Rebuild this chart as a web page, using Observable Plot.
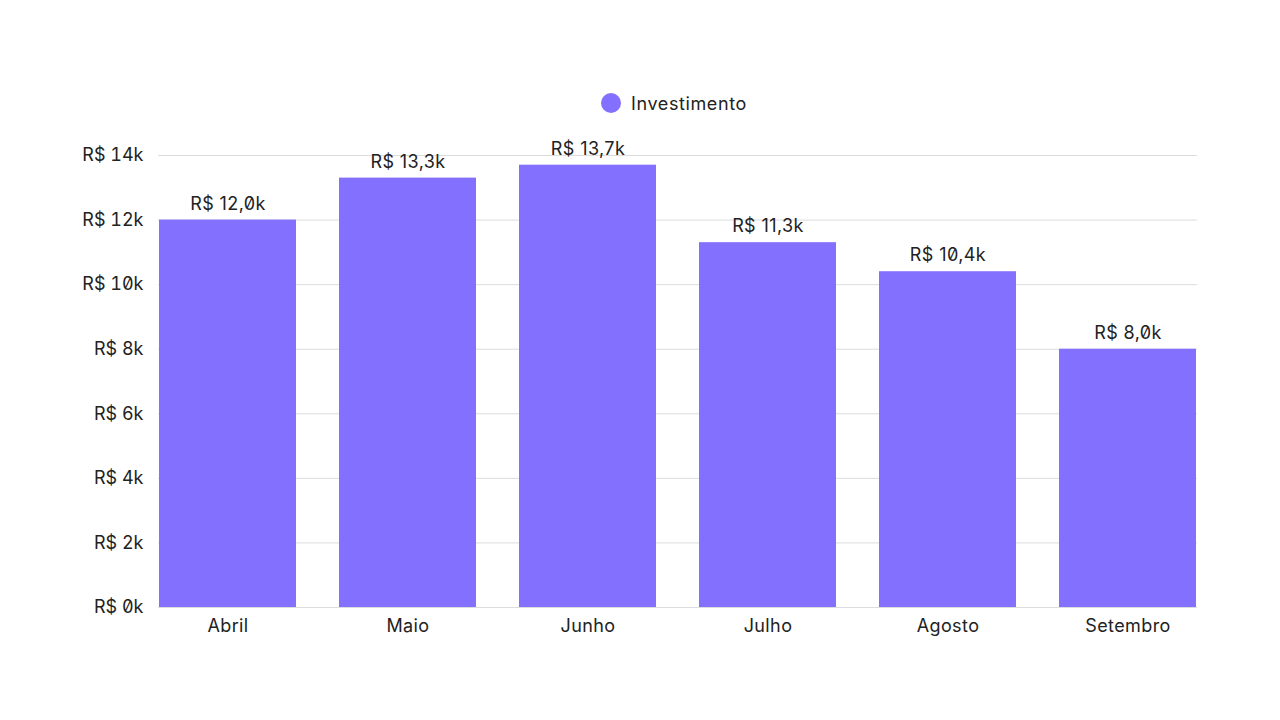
<!DOCTYPE html>
<html>
<head>
<meta charset="utf-8">
<script src="https://cdn.jsdelivr.net/npm/d3@7"></script>
<script src="https://cdn.jsdelivr.net/npm/@observablehq/plot@0.6"></script>
<style>
  html, body { margin: 0; padding: 0; background: #fff; }
  body { width: 1280px; height: 720px; overflow: hidden; font-family: Inter, "Noto Sans", sans-serif; font-feature-settings: "zero" 1; color: #222; }
  #legend { margin-top: 83px; height: 40px; display: flex; align-items: center; justify-content: center; font-size: 18px; letter-spacing: 0.6px; padding-left: 68px; box-sizing: border-box; }
  #legend .sw { width: 20px; height: 20px; border-radius: 50%; background: #8470FF; margin-right: 10px; }
  svg text { font-feature-settings: "zero" 1; letter-spacing: 0.4px; }
  svg g[aria-label="y-axis tick label"] text { letter-spacing: 0px; }
</style>
</head>
<body>
<div id="legend"><span class="sw"></span><span>Investimento</span></div>
<div id="chart"></div>
<script>
const months = ["Abril", "Maio", "Junho", "Julho", "Agosto", "Setembro"];
const investimento = [12000, 13300, 13700, 11300, 10400, 8000];
const yTicks = [0, 2000, 4000, 6000, 8000, 10000, 12000, 14000];

const data = months.map((m, i) => ({month: m, value: investimento[i]}));
const fmtLabel = v => "R$ " + (v / 1000).toFixed(1).replace(".", ",") + "k";
const fmtTick = v => "R$ " + (v / 1000) + "k";

const chart = Plot.plot({
  width: 1280,
  height: 597,
  marginTop: 32,
  marginBottom: 113,
  marginLeft: 158,
  marginRight: 83,
  style: {fontFamily: "Inter, 'Noto Sans', sans-serif", fontSize: "18px", color: "#222", background: "#fff"},
  x: {domain: months, padding: 0.24, paddingOuter: 0, label: null, tickSize: 0, tickPadding: 12},
  y: {domain: [0, 14000], ticks: yTicks, tickFormat: fmtTick, label: null, tickSize: 0, tickPadding: 15},
  marks: [
    Plot.ruleY(yTicks, {stroke: "#dcdcdc", strokeWidth: 1}),
    Plot.barY(data, {x: "month", y: "value", fill: "#8470FF"}),
    Plot.text(data, {x: "month", y: "value", text: d => fmtLabel(d.value), dy: -16, fontSize: 18, fill: "#222"})
  ]
});
document.getElementById("chart").appendChild(chart);
</script>
</body>
</html>
